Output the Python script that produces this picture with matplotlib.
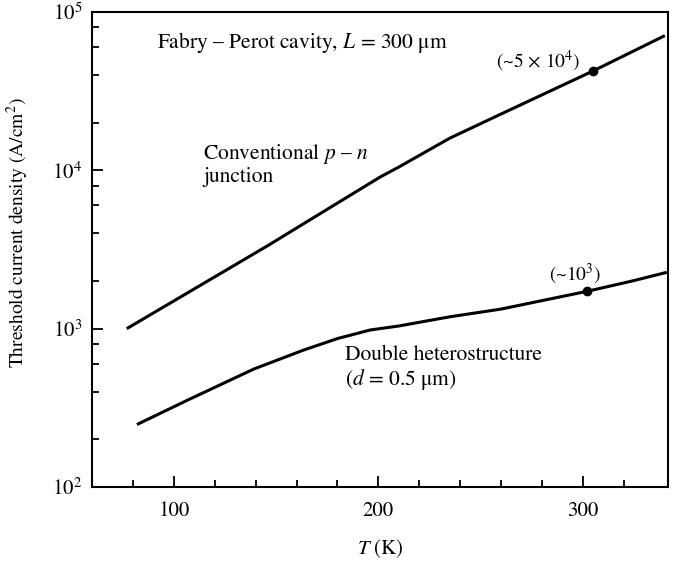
import matplotlib

matplotlib.use("Agg")
import matplotlib.pyplot as plt
from matplotlib.ticker import FixedLocator, LogLocator, NullFormatter, FixedFormatter

# values (T in K, J in A/cm^2)
conv_T = [77, 146, 168, 201, 210, 235, 259, 305, 340]
conv_J = [1000, 3350, 5000, 9100, 10500, 16000, 22400, 42500, 71000]
conv_mark = (305, 42500)

dh_T = [82, 107, 139, 163, 180, 196, 210, 235, 260, 302, 324, 341]
dh_J = [248, 355, 555, 729, 866, 981, 1040, 1189, 1330, 1722, 2000, 2270]
dh_mark = (302, 1722)

x_major = [100, 200, 300]
x_minor = [80, 120, 140, 160, 180, 220, 240, 260, 280, 320]
y_major = [1e2, 1e3, 1e4, 1e5]
y_labels = [r"$10^2$", r"$10^3$", r"$10^4$", r"$10^5$"]

plt.rcParams["font.family"] = ["STIXGeneral", "DejaVu Serif"]
plt.rcParams["mathtext.fontset"] = "stix"

fig = plt.figure(figsize=(6.76, 5.62), dpi=100)
ax = fig.add_axes([0.136, 0.1335, 0.852, 0.845])

ax.plot(conv_T, conv_J, color="black", linewidth=2.2, solid_capstyle="butt")
ax.plot(dh_T, dh_J, color="black", linewidth=2.2, solid_capstyle="butt")
ax.plot(*conv_mark, "o", color="black", markersize=6)
ax.plot(*dh_mark, "o", color="black", markersize=6)

ax.set_yscale("log")
ax.set_xlim(60, 341.5)
ax.set_ylim(1e2, 1e5)

ax.xaxis.set_major_locator(FixedLocator(x_major))
ax.xaxis.set_minor_locator(FixedLocator(x_minor))
ax.yaxis.set_major_locator(FixedLocator(y_major))
ax.yaxis.set_major_formatter(FixedFormatter(y_labels))
ax.yaxis.set_minor_locator(LogLocator(base=10, subs=[2, 4, 6, 8]))
ax.yaxis.set_minor_formatter(NullFormatter())

ax.tick_params(which="both", direction="in", top=False, right=False,
               width=1.3, labelsize=15)
ax.tick_params(axis="x", which="both", pad=10)
ax.tick_params(axis="y", which="both", pad=7)
ax.tick_params(which="major", length=8)
ax.tick_params(which="minor", length=5)
for sp in ax.spines.values():
    sp.set_linewidth(1.5)

ax.set_xlabel(r"$T$ (K)", fontsize=15, labelpad=12)
ax.set_ylabel(r"Threshold current density (A/cm$^2$)", fontsize=14)
ax.yaxis.set_label_coords(-0.105, 0.535)

ax.text(0.113, 0.937, r"Fabry – Perot cavity, $L$ = 300 μm", transform=ax.transAxes,
        fontsize=15.5, ha="left", va="center")
ax.text(0.193, 0.679, r"Conventional $p$ – $n$" + "\njunction", transform=ax.transAxes,
        fontsize=15.5, ha="left", va="center", linespacing=1.1)
ax.text(0.439, 0.25, "Double heterostructure\n" + r"($d$ = 0.5 μm)", transform=ax.transAxes,
        fontsize=15.5, ha="left", va="center", linespacing=1.1)
ax.annotate(r"(~5 × 10$^4$)", xy=conv_mark, xytext=(-40, 7), textcoords="offset points",
            fontsize=14, ha="center", va="center")
ax.annotate(r"(~10$^3$)", xy=dh_mark, xytext=(-9, 12), textcoords="offset points",
            fontsize=14, ha="center", va="center")

fig.savefig("out.png", dpi=100)
